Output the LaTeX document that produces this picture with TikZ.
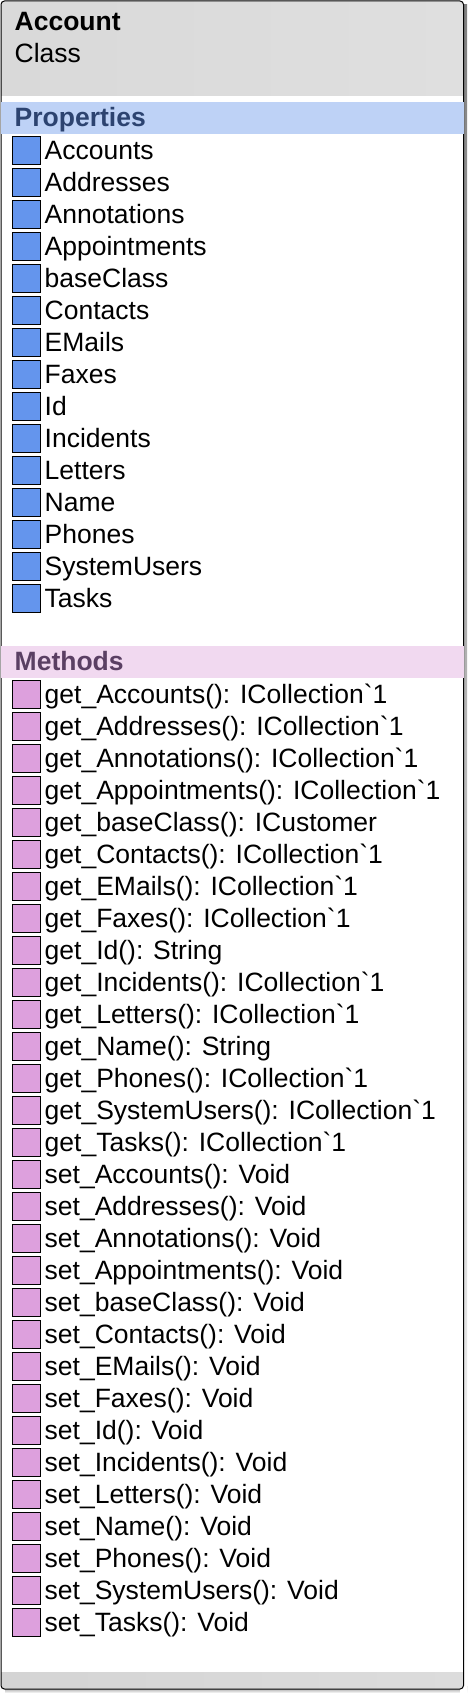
\documentclass[tikz,border=0pt]{standalone}
\usepackage{fontspec}
\setmainfont{Liberation Sans}
\newfontfamily\uifont{Liberation Sans}
\definecolor{headleft}{HTML}{D9D9D9}
\definecolor{headright}{HTML}{DFDFDF}
\definecolor{footleft}{HTML}{D4D4D4}
\definecolor{footright}{HTML}{DCDCDC}
\definecolor{propband}{HTML}{BED2F6}
\definecolor{propink}{HTML}{2C4370}
\definecolor{propicon}{HTML}{6495ED}
\definecolor{methband}{HTML}{F1D9F0}
\definecolor{methink}{HTML}{5A3F63}
\definecolor{methicon}{HTML}{DDA0DD}
\definecolor{shade}{HTML}{EDEDED}
\tikzset{
  x=1pt,y=-1pt,
  itemlabel/.style={anchor=base west,inner sep=0pt,font=\uifont\fontsize{26.5}{30}\selectfont,text=black},
  headlabel/.style={itemlabel,font=\uifont\fontsize{26.5}{30}\selectfont\bfseries},
  propbox/.style={draw=black,line width=1pt,fill=propicon},
  methbox/.style={draw=black,line width=1pt,fill=methicon},
}
\newcommand{\propitem}[2]{%
  \path[propbox] (12.5,#1) rectangle (40.5,#1+28);
  \node[itemlabel] at (44.5,#1+23) {#2};}
\newcommand{\methitem}[2]{%
  \path[methbox] (12.5,#1) rectangle (40.5,#1+28);
  \node[itemlabel] at (44.5,#1+23) {#2};}
\begin{document}
\begin{tikzpicture}
\useasboundingbox (0,0) rectangle (470,1696);
\fill[white] (0,0) rectangle (470,1696);
\fill[shade] (5,1686) rectangle (467,1693);
\fill[shade] (460,5) rectangle (467,1693);
\fill[white,rounded corners=3.5pt] (1,1) rectangle (463.5,1689);
\begin{scope}
\clip[rounded corners=3.5pt] (1,1) rectangle (463.5,1689);
\shade[left color=headleft,right color=headright] (1,1) rectangle (463.5,96);
\shade[left color=footleft,right color=footright] (1,1672) rectangle (463.5,1689);
\end{scope}
\draw[black,line width=1pt,rounded corners=3.5pt] (1,1) rectangle (463.5,1689);
\fill[propband] (0.5,102) rectangle (464,134);
\fill[methband] (0.5,646) rectangle (464,678);
\node[headlabel] at (14.5,30.6) {Account};
\node[itemlabel] at (14.5,62.6) {Class};
\node[headlabel,text=propink] at (14.5,126.6) {Properties};
\node[headlabel,text=methink] at (14.5,670.3) {Methods};
\foreach \t [count=\i from 0] in {Accounts,Addresses,Annotations,Appointments,baseClass,Contacts,EMails,Faxes,Id,Incidents,Letters,Name,Phones,SystemUsers,Tasks}{
  \pgfmathsetmacro\yy{136.3+32*\i}
  \propitem{\yy}{\t}
}
\foreach \t [count=\i from 0] in {get\_Accounts(): ICollection`1,get\_Addresses(): ICollection`1,get\_Annotations(): ICollection`1,get\_Appointments(): ICollection`1,get\_baseClass(): ICustomer,get\_Contacts(): ICollection`1,get\_EMails(): ICollection`1,get\_Faxes(): ICollection`1,get\_Id(): String,get\_Incidents(): ICollection`1,get\_Letters(): ICollection`1,get\_Name(): String,get\_Phones(): ICollection`1,get\_SystemUsers(): ICollection`1,get\_Tasks(): ICollection`1,set\_Accounts(): Void,set\_Addresses(): Void,set\_Annotations(): Void,set\_Appointments(): Void,set\_baseClass(): Void,set\_Contacts(): Void,set\_EMails(): Void,set\_Faxes(): Void,set\_Id(): Void,set\_Incidents(): Void,set\_Letters(): Void,set\_Name(): Void,set\_Phones(): Void,set\_SystemUsers(): Void,set\_Tasks(): Void}{
  \pgfmathsetmacro\yy{680.3+32*\i}
  \methitem{\yy}{\t}
}
\end{tikzpicture}
\end{document}
